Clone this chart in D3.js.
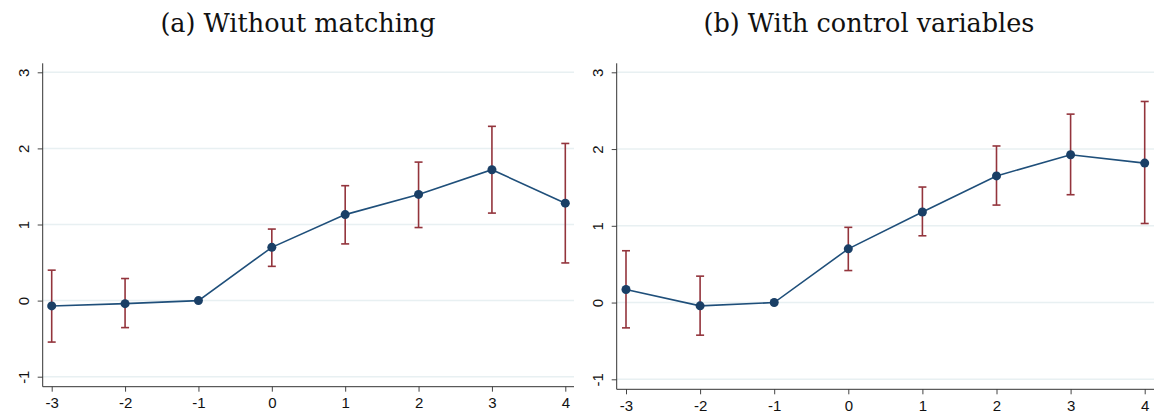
<!DOCTYPE html>
<html>
<head>
<meta charset="utf-8">
<script src="https://cdn.jsdelivr.net/npm/d3@7"></script>
<style>
  body { margin: 0; background: #fff; }
  .title { font-family: "DejaVu Serif", "Liberation Serif", serif; font-size: 25.5px; fill: #111; }
</style>
</head>
<body>
<div id="chart"></div>
<script>
//event-time periods on the x axis
var periods = [-3, -2, -1, 0, 1, 2, 3, 4];
var yTicks = [-1, 0, 1, 2, 3];

//panel (a) estimates and 95% intervals
var estA = [-0.07, -0.04, 0, 0.70, 1.13, 1.395, 1.72, 1.28];
var lowA = [-0.545, -0.355, null, 0.45, 0.745, 0.96, 1.15, 0.495];
var highA = [0.40, 0.29, null, 0.94, 1.51, 1.82, 2.29, 2.065];

//panel (b) estimates and 95% intervals
var estB = [0.17, -0.043, 0, 0.70, 1.18, 1.65, 1.925, 1.817];
var lowB = [-0.33, -0.425, null, 0.417, 0.87, 1.27, 1.405, 1.03];
var highB = [0.675, 0.344, null, 0.98, 1.505, 2.04, 2.455, 2.62];

var titles = ["(a) Without matching", "(b) With control variables"];

var svg = d3.select("#chart")
.append("svg")
.attr("width", 1158)
.attr("height", 416);

//plain hyphen minus like the original
var fmt = function(d) { return String(d); };

//layout of each panel (pixel boxes)
var panels = [
  {title: titles[0], est: estA, low: lowA, high: highA, cx: 298,
   left: 42.7, right: 574, top: 63.3, bottom: 386.7,
   x0: 51.7, x1: 565.3, y0: 376.7, y1: 72.3},
  {title: titles[1], est: estB, low: lowB, high: highB, cx: 869,
   left: 616.7, right: 1154, top: 63.3, bottom: 389.3,
   x0: 626, x1: 1144.7, y0: 379.3, y1: 72.3}
];

panels.forEach(function(p) {
  var x = d3.scaleLinear().domain([-3, 4]).range([p.x0, p.x1]);
  var y = d3.scaleLinear().domain([-1, 3]).range([p.y0, p.y1]);

  var g = svg.append("g");

  //title
  g.append("text")
  .attr("class", "title")
  .attr("x", p.cx)
  .attr("y", 32)
  .attr("text-anchor", "middle")
  .text(p.title);

  //gridlines
  g.selectAll("line.grid")
  .data(yTicks)
  .enter()
  .append("line")
  .attr("x1", p.left)
  .attr("x2", p.right)
  .attr("y1", function(d) { return y(d); })
  .attr("y2", function(d) { return y(d); })
  .attr("stroke", "#e8f0f2")
  .attr("stroke-width", 1.5);

  //x axis
  var xa = g.append("g")
  .attr("transform", "translate(0," + p.bottom + ")")
  .call(d3.axisBottom(x).tickValues(periods).tickSize(5).tickPadding(6).tickFormat(fmt))
  .attr("font-family", "'Liberation Sans', Arial, sans-serif")
  .attr("font-size", 15);
  xa.select(".domain").remove();
  xa.selectAll(".tick line").attr("stroke", "#444");
  xa.selectAll(".tick text").attr("fill", "#111");
  g.append("line")
  .attr("x1", p.left).attr("x2", p.right)
  .attr("y1", p.bottom).attr("y2", p.bottom)
  .attr("stroke", "#333");

  //y axis
  var ya = g.append("g")
  .attr("transform", "translate(" + p.left + ",0)")
  .call(d3.axisLeft(y).tickValues(yTicks).tickSize(5).tickFormat(fmt))
  .attr("font-family", "'Liberation Sans', Arial, sans-serif")
  .attr("font-size", 15);
  ya.select(".domain").remove();
  ya.selectAll(".tick line").attr("stroke", "#444");
  ya.selectAll(".tick text")
  .attr("x", 0)
  .attr("fill", "#111")
  .attr("text-anchor", "middle")
  .attr("transform", "translate(-19,0) rotate(-90)")
  .attr("dy", "0.35em");
  g.append("line")
  .attr("x1", p.left).attr("x2", p.left)
  .attr("y1", p.top).attr("y2", p.bottom)
  .attr("stroke", "#333");

  //error bars
  var ci = periods.map(function(t, i) { return {t: t, lo: p.low[i], hi: p.high[i]}; })
  .filter(function(d) { return d.lo !== null; });
  var bars = g.selectAll("g.ci").data(ci).enter().append("g")
  .attr("stroke", "#93343c").attr("stroke-width", 1.6);
  bars.append("line")
  .attr("x1", function(d) { return x(d.t); }).attr("x2", function(d) { return x(d.t); })
  .attr("y1", function(d) { return y(d.lo); }).attr("y2", function(d) { return y(d.hi); });
  bars.append("line")
  .attr("x1", function(d) { return x(d.t) - 4; }).attr("x2", function(d) { return x(d.t) + 4; })
  .attr("y1", function(d) { return y(d.lo); }).attr("y2", function(d) { return y(d.lo); });
  bars.append("line")
  .attr("x1", function(d) { return x(d.t) - 4; }).attr("x2", function(d) { return x(d.t) + 4; })
  .attr("y1", function(d) { return y(d.hi); }).attr("y2", function(d) { return y(d.hi); });

  //estimate line
  var line = d3.line()
  .x(function(d, i) { return x(periods[i]); })
  .y(function(d) { return y(d); });
  g.append("path")
  .datum(p.est)
  .attr("fill", "none")
  .attr("stroke", "#1f4f7a")
  .attr("stroke-width", 1.6)
  .attr("d", line);

  //points
  g.selectAll("circle")
  .data(p.est)
  .enter()
  .append("circle")
  .attr("cx", function(d, i) { return x(periods[i]); })
  .attr("cy", function(d) { return y(d); })
  .attr("r", 4.5)
  .attr("fill", "#1a3f66");
});
</script>
</body>
</html>
